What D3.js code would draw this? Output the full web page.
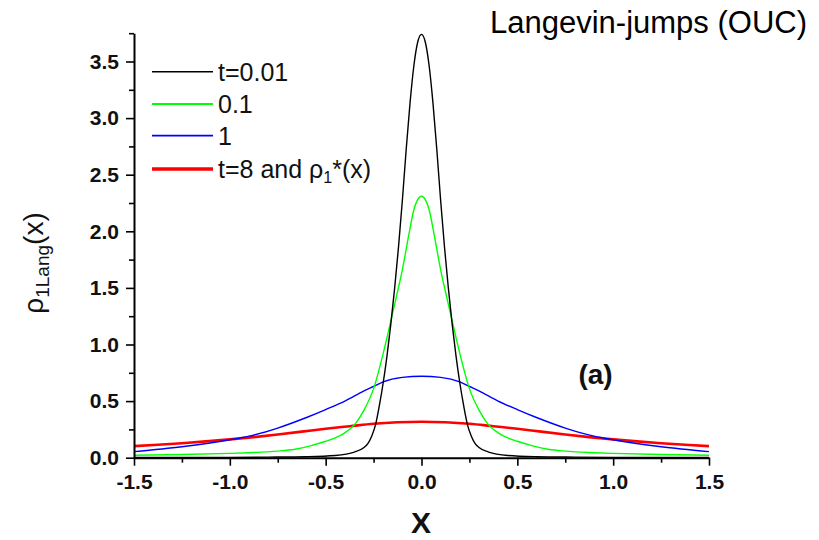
<!DOCTYPE html>
<html>
<head>
<meta charset="utf-8">
<script src="https://cdn.jsdelivr.net/npm/d3@7"></script>
<style>
  html, body { margin: 0; padding: 0; background: #fff; }
  svg { display: block; }
  text { font-family: "Liberation Sans", Arial, Helvetica, sans-serif; }
</style>
</head>
<body>
<script>
// ---------- data ----------
const title = "Langevin-jumps (OUC)";
const panelLabel = "(a)";
const xTickValues = [-1.5, -1.0, -0.5, 0.0, 0.5, 1.0, 1.5];
const yTickValues = [0.0, 0.5, 1.0, 1.5, 2.0, 2.5, 3.0, 3.5];
const xMinorTicks = [-1.25, -0.75, -0.25, 0.25, 0.75, 1.25];
const yMinorTicks = [0.25, 0.75, 1.25, 1.75, 2.25, 2.75, 3.25, 3.75];
const xDomain = [-1.5, 1.5];
const yDomain = [0, 3.75];

// t = 0.01 (black)
const xT001 = [-1.5, -1.0, -0.8, -0.6, -0.45, -0.35, -0.3, -0.28, -0.26, -0.24, -0.22, -0.2, -0.18, -0.16, -0.14, -0.12, -0.1, -0.08, -0.06, -0.04, -0.02, 0,
               0.02, 0.04, 0.06, 0.08, 0.1, 0.12, 0.14, 0.16, 0.18, 0.2, 0.22, 0.24, 0.26, 0.28, 0.3, 0.35, 0.45, 0.6, 0.8, 1.0, 1.5];
const yT001 = [0.002, 0.003, 0.005, 0.009, 0.02, 0.05, 0.09, 0.125, 0.19, 0.29, 0.46, 0.66, 0.9, 1.18, 1.5, 1.86, 2.27, 2.72, 3.13, 3.46, 3.67, 3.74,
               3.67, 3.46, 3.13, 2.72, 2.27, 1.86, 1.5, 1.18, 0.9, 0.66, 0.46, 0.29, 0.19, 0.125, 0.09, 0.05, 0.02, 0.009, 0.005, 0.003, 0.002];

// t = 0.1 (green)
const xT01 = [-1.5, -1.25, -1.0, -0.9, -0.75, -0.66, -0.58, -0.5, -0.45, -0.4, -0.35, -0.3, -0.25, -0.2, -0.157, -0.13, -0.1, -0.066, -0.04, -0.02, 0,
              0.02, 0.04, 0.066, 0.1, 0.13, 0.157, 0.2, 0.25, 0.3, 0.35, 0.4, 0.45, 0.5, 0.58, 0.66, 0.75, 0.9, 1.0, 1.25, 1.5];
const yT01 = [0.022, 0.028, 0.038, 0.044, 0.058, 0.075, 0.105, 0.145, 0.175, 0.22, 0.29, 0.42, 0.61, 0.92, 1.23, 1.43, 1.66, 1.97, 2.19, 2.28, 2.31,
              2.28, 2.19, 1.97, 1.66, 1.43, 1.23, 0.92, 0.61, 0.42, 0.29, 0.22, 0.175, 0.145, 0.105, 0.075, 0.058, 0.044, 0.038, 0.028, 0.022];

// t = 1 (blue)
const xT1 = [-1.5, -1.25, -1.0, -0.9, -0.75, -0.6, -0.5, -0.4, -0.3, -0.25, -0.2, -0.1, 0,
             0.1, 0.2, 0.25, 0.3, 0.4, 0.5, 0.6, 0.75, 0.9, 1.0, 1.25, 1.5];
const yT1 = [0.054, 0.097, 0.158, 0.19, 0.262, 0.355, 0.425, 0.5, 0.59, 0.63, 0.67, 0.71, 0.72,
             0.71, 0.67, 0.63, 0.59, 0.5, 0.425, 0.355, 0.262, 0.19, 0.158, 0.097, 0.054];

// t = 8 and rho1*(x) (red)
const xT8 = [-1.5, -1.375, -1.25, -1.125, -1.0, -0.875, -0.75, -0.625, -0.5, -0.375, -0.25, -0.125, 0,
             0.125, 0.25, 0.375, 0.5, 0.625, 0.75, 0.875, 1.0, 1.125, 1.25, 1.375, 1.5];
const yT8 = [0.102, 0.114, 0.128, 0.144, 0.162, 0.182, 0.205, 0.23, 0.256, 0.278, 0.3, 0.313, 0.318,
             0.313, 0.3, 0.278, 0.256, 0.23, 0.205, 0.182, 0.162, 0.144, 0.128, 0.114, 0.102];

const seriesColors = ["#000000", "#00ff00", "#0000ff", "#ff0000"];
const seriesX = [xT001, xT01, xT1, xT8];
const seriesY = [yT001, yT01, yT1, yT8];

// ---------- layout ----------
const W = 819, H = 540;
const plotLeft = 134, plotRight = 709, plotTop = 33.2, plotBottom = 457.7;

const svg = d3.select("body").append("svg").attr("width", W).attr("height", H);
svg.append("rect").attr("width", W).attr("height", H).attr("fill", "#fff");

const x = d3.scaleLinear().domain(xDomain).range([plotLeft, plotRight]);
const y = d3.scaleLinear().domain(yDomain).range([plotBottom, plotTop]);

const fmt = d => d.toFixed(1);

// curves
const line = d3.line().x(d => x(d[0])).y(d => y(d[1])).curve(d3.curveMonotoneX);
const widths = [1.4, 1.4, 1.4, 2.6];
[3, 2, 1, 0].forEach(i => {
  const pts = seriesX[i].map((v, k) => [v, seriesY[i][k]]);
  svg.append("path").datum(pts)
    .attr("d", line)
    .attr("fill", "none")
    .attr("stroke", seriesColors[i])
    .attr("stroke-width", widths[i])
    .attr("stroke-linejoin", "round");
});

// axes
const gx = svg.append("g").attr("transform", `translate(0,${plotBottom})`);
gx.call(d3.axisBottom(x).tickValues(xMinorTicks).tickSize(5).tickFormat(""));
gx.call(g => g.select(".domain").remove());
const gx2 = svg.append("g").attr("transform", `translate(0,${plotBottom})`);
gx2.call(d3.axisBottom(x).tickValues(xTickValues).tickSizeInner(8).tickSizeOuter(0).tickPadding(8).tickFormat(fmt));

const gy = svg.append("g").attr("transform", `translate(${plotLeft},0)`);
gy.call(d3.axisLeft(y).tickValues(yMinorTicks).tickSize(5).tickFormat(""));
gy.call(g => g.select(".domain").remove());
const gy2 = svg.append("g").attr("transform", `translate(${plotLeft},0)`);
gy2.call(d3.axisLeft(y).tickValues(yTickValues).tickSizeInner(8).tickSizeOuter(0).tickPadding(7).tickFormat(fmt));

svg.selectAll(".tick line").attr("stroke", "#000").attr("stroke-width", 1.6);
svg.selectAll(".domain").attr("stroke", "#000").attr("stroke-width", 2);
svg.selectAll(".tick text")
  .attr("font-family", "'Liberation Sans', Arial, sans-serif")
  .attr("font-size", 21).attr("font-weight", "bold").attr("fill", "#111");

// legend
const legendY = [71.7, 104, 135.7, 169];
const legendLabels = ["t=0.01", "0.1", "1", null];
const legendWidths = [1.6, 1.8, 1.8, 3.5];
legendY.forEach((ly, i) => {
  svg.append("line").attr("x1", 152).attr("x2", 213).attr("y1", ly).attr("y2", ly)
    .attr("stroke", seriesColors[i]).attr("stroke-width", legendWidths[i]);
  const t = svg.append("text").attr("x", 218).attr("y", ly + 9)
    .attr("font-size", 25).attr("fill", "#111");
  if (legendLabels[i] !== null) {
    t.text(legendLabels[i]);
  } else {
    t.append("tspan").text("t=8 and \u03C1");
    t.append("tspan").attr("font-size", 16).attr("dy", 5).text("1");
    t.append("tspan").attr("dy", -5).text("*(x)");
  }
});

// title
svg.append("text").attr("x", 807).attr("y", 33.3).attr("text-anchor", "end")
  .attr("font-size", 31).attr("fill", "#000").text(title);

// panel label
svg.append("text").attr("x", 595.5).attr("y", 383.5).attr("text-anchor", "middle")
  .attr("font-size", 28).attr("font-weight", "bold").attr("fill", "#111").text(panelLabel);

// x axis label
svg.append("text").attr("x", 421).attr("y", 533).attr("text-anchor", "middle")
  .attr("font-size", 30).attr("font-weight", "bold").attr("fill", "#111").text("X");

// y axis label
const yl = svg.append("text")
  .attr("transform", "translate(43,263) rotate(-90)")
  .attr("text-anchor", "middle").attr("font-size", 28).attr("fill", "#111");
yl.append("tspan").text("\u03C1");
yl.append("tspan").attr("font-size", 19).attr("dy", 6).text("1Lang");
yl.append("tspan").attr("dy", -6).text("(x)");
</script>
</body>
</html>
